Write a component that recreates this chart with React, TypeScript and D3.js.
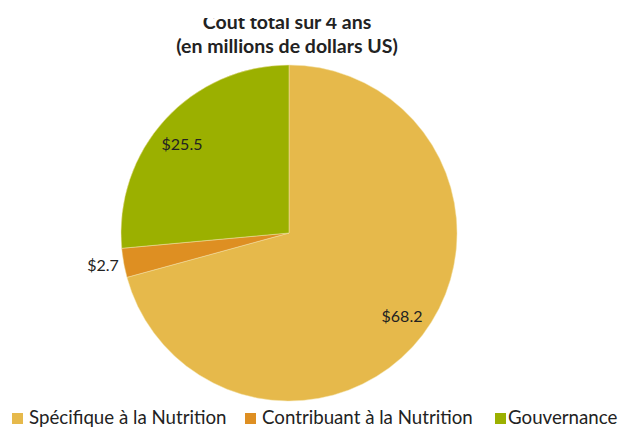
import React from "react";
import * as d3 from "d3";

const categories = ["Spécifique à la Nutrition", "Contribuant à la Nutrition", "Gouvernance"];
const values = [68.2, 2.7, 25.5];
const labels = ["$68.2", "$2.7", "$25.5"];
const colors = ["#E6B94B", "#DE8F22", "#9BB000"];
const titleLines = ["Coût total sur 4 ans", "(en millions de dollars US)"];

export default function App() {
  const W = 619, H = 428;
  const cx = 289, cy = 233, r = 168;
  const pie = d3.pie<number>().sort(null).value((d) => d)(values);
  const arc = d3.arc<d3.PieArcDatum<number>>().innerRadius(0).outerRadius(r);
  const labelPos: [number, number][] = [
    [402, 315],
    [103, 264],
    [182, 143],
  ];
  const legendSq = [12, 245, 495];
  const legendTx = [29, 262, 508];
  const font = "Lato, 'Open Sans', sans-serif";
  return (
    <svg width={W} height={H} style={{ position: "absolute", left: 0, top: 0 }} fontFamily={font}>
      <defs>
        <clipPath id="titleClip">
          <rect x={0} y={18} width={W} height={H} />
        </clipPath>
      </defs>
      <rect width={W} height={H} fill="#fff" />
      <g clipPath="url(#titleClip)">
        <text x={287} y={28.5} textAnchor="middle" fontSize={19.5} fontWeight="bold" fill="#222">{titleLines[0]}</text>
        <text x={287} y={53} textAnchor="middle" fontSize={19.5} fontWeight="bold" fill="#222">{titleLines[1]}</text>
      </g>
      <g transform={`translate(${cx},${cy})`}>
        {pie.map((p, i) => (
          <path key={i} d={arc(p) || ""} fill={colors[i]} stroke="#f3e3a8" strokeWidth={0.5} />
        ))}
      </g>
      {labels.map((l, i) => (
        <text key={i} x={labelPos[i][0]} y={labelPos[i][1]} textAnchor="middle" dominantBaseline="central" fontSize={16} fill="#222">{l}</text>
      ))}
      {categories.map((c, i) => (
        <g key={i}>
          <rect x={legendSq[i]} y={413} width={11} height={11} fill={colors[i]} />
          <text x={legendTx[i]} y={424} fontSize={18.7} fill="#222">{c}</text>
        </g>
      ))}
    </svg>
  );
}
